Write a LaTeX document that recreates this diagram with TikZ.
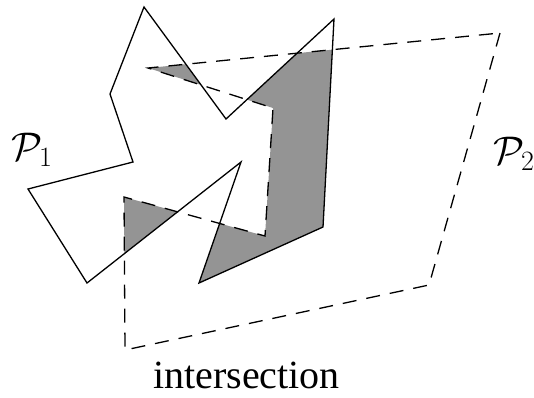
\RequirePackage{fix-cm}
\documentclass[tikz,border=0pt]{standalone}
\usepackage{fontspec}
\setmainfont{Liberation Serif}
\begin{document}
\begin{tikzpicture}[x=1pt,y=-1pt,
  polyone/.style={line width=1.3pt,line join=miter},
  polytwo/.style={line width=1.3pt,dash pattern=on 14pt off 10pt},
  shade/.style={fill=black!42},
  lab/.style={font=\fontsize{40}{44}\selectfont,inner sep=0pt}]
\useasboundingbox (0,0) rectangle (534,397);
% P1 vertices
\coordinate (a1) at (144,7);
\coordinate (a2) at (226,119);
\coordinate (a3) at (334,19);
\coordinate (a4) at (323,227);
\coordinate (a5) at (199,283);
\coordinate (a6) at (241,162);
\coordinate (a7) at (87,283);
\coordinate (a8) at (28,189);
\coordinate (a9) at (133,162);
\coordinate (a10) at (110,94);
% P2 vertices
\coordinate (b1) at (500,33);
\coordinate (b2) at (429,285);
\coordinate (b3) at (125,350);
\coordinate (b4) at (124,197);
\coordinate (b5) at (265,236);
\coordinate (b6) at (273,108);
\coordinate (b7) at (148,68);
% intersection
\begin{scope}
\clip (b1)--(b2)--(b3)--(b4)--(b5)--(b6)--(b7)--cycle;
\fill[shade] (a1)--(a2)--(a3)--(a4)--(a5)--(a6)--(a7)--(a8)--(a9)--(a10)--cycle;
\end{scope}
\draw[polytwo] (b1)--(b2)--(b3)--(b4)--(b5)--(b6)--(b7)--cycle;
\draw[polyone] (a1)--(a2)--(a3)--(a4)--(a5)--(a6)--(a7)--(a8)--(a9)--(a10)--cycle;
\node[lab,anchor=west] (p1) at (11,150) {$\mathcal{P}_1$};
\node[lab,anchor=west] (p2) at (493,154) {$\mathcal{P}_2$};
\node[lab,anchor=base west,text depth=0pt] (int) at (153,388) {intersection};
\end{tikzpicture}
\end{document}
